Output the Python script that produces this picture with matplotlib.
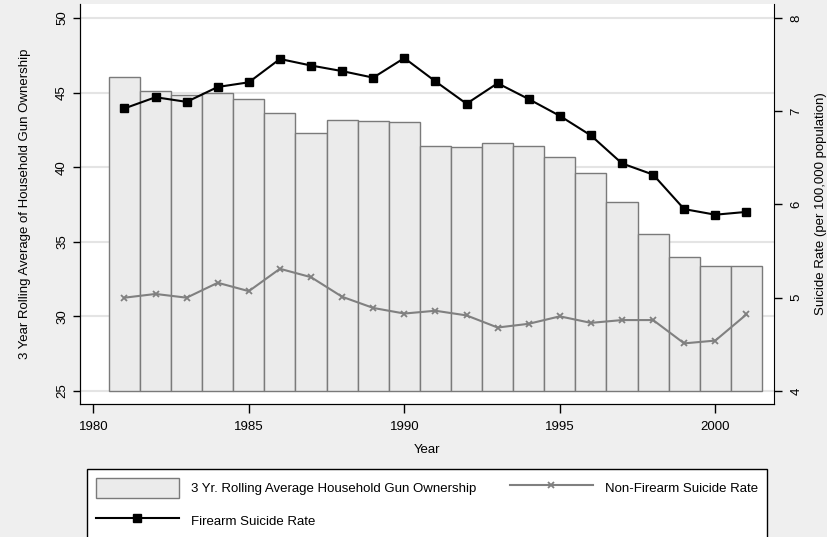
import matplotlib
matplotlib.use("Agg")
import matplotlib.pyplot as plt
from matplotlib.patches import Patch
from matplotlib.lines import Line2D

plt.rcParams["font.family"] = ["Liberation Sans", "DejaVu Sans"]

years = list(range(1981, 2002))
gun_ownership = [46.02, 45.08, 44.86, 44.95, 44.59, 43.65, 42.29, 43.14, 43.10, 43.03,
                 41.42, 41.35, 41.62, 41.42, 40.70, 39.59, 37.69, 35.52, 33.96, 33.40, 33.38]
firearm_rate = [7.03, 7.15, 7.10, 7.26, 7.31, 7.56, 7.49, 7.43, 7.36, 7.57,
                7.32, 7.08, 7.30, 7.13, 6.95, 6.74, 6.44, 6.32, 5.95, 5.89, 5.92]
nonfirearm_rate = [5.00, 5.04, 5.00, 5.16, 5.07, 5.31, 5.22, 5.01, 4.89, 4.83,
                   4.86, 4.81, 4.68, 4.72, 4.80, 4.73, 4.76, 4.76, 4.51, 4.54, 4.82]

BG = "#efefef"
BAR_FILL = "#ebebeb"
BAR_EDGE = "#7a7a7a"
GREY_LINE = "#808080"
FS = 9.5

fig = plt.figure(figsize=(8.27, 5.37), dpi=100, facecolor=BG)
ax = fig.add_axes([0.0967, 0.2477, 0.8393, 0.7449])
ax.set_facecolor("white")

ax.bar(years, [g - 25 for g in gun_ownership], bottom=25, width=1.0,
       color=BAR_FILL, edgecolor=BAR_EDGE, linewidth=1.0, zorder=2)
ax.set_axisbelow(True)
ax.yaxis.grid(True, color="#e4e4e4", linewidth=1.5)
ax.set_xlim(1979.57, 2001.89)
ax.set_ylim(24.13, 50.94)
ax.set_yticks([25, 30, 35, 40, 45, 50])
ax.set_xticks([1980, 1985, 1990, 1995, 2000])
ax.set_xlabel("Year", fontsize=FS, labelpad=8)
ax.set_ylabel("3 Year Rolling Average of Household Gun Ownership", fontsize=FS, labelpad=18)
ax.tick_params(axis="y", labelrotation=90, labelsize=FS, length=5, width=1)
ax.tick_params(axis="x", labelsize=FS, length=6.5, width=1, pad=5.5)
for lbl in ax.get_yticklabels():
    lbl.set_va("center")
ax.spines["top"].set_visible(False)
ax.spines["right"].set_visible(False)

ax2 = ax.twinx()
ax2.plot(years, firearm_rate, color="black", linewidth=1.5, marker="s",
         markersize=5.5, zorder=4)
ax2.plot(years, nonfirearm_rate, color=GREY_LINE, linewidth=1.5, marker="x",
         markersize=4.5, markeredgewidth=1.3, zorder=3)
ax2.set_ylim(3.86, 8.15)
ax2.set_yticks([4, 5, 6, 7, 8])
ax2.set_ylabel("Suicide Rate (per 100,000 population)", fontsize=FS, labelpad=9)
ax2.tick_params(axis="y", labelrotation=90, labelsize=FS, length=6, width=1, pad=6)
for lbl in ax2.get_yticklabels():
    lbl.set_va("center")
ax2.spines["top"].set_visible(False)

handles = [
    Patch(facecolor=BAR_FILL, edgecolor=BAR_EDGE, linewidth=1.0),
    Line2D([], [], color="black", linewidth=1.5, marker="s", markersize=5.5),
    Line2D([], [], color=GREY_LINE, linewidth=1.5, marker="x", markersize=4.5,
           markeredgewidth=1.3),
]
labels = ["3 Yr. Rolling Average Household Gun Ownership", "Firearm Suicide Rate",
          "Non-Firearm Suicide Rate"]
leg = fig.legend(handles, labels, loc="upper left",
                 bbox_to_anchor=(87 / 827, 1 - 469 / 537, 680 / 827, 0.0),
                 mode="expand", ncol=2, fontsize=FS, frameon=True, fancybox=False,
                 edgecolor="black", framealpha=1, borderaxespad=0, borderpad=0.65,
                 handlelength=6.3, handleheight=2.0, handletextpad=0.95,
                 labelspacing=0.95, columnspacing=2.5)
leg.get_frame().set_linewidth(1.0)

fig.savefig("out.png", dpi=100, facecolor=BG)
